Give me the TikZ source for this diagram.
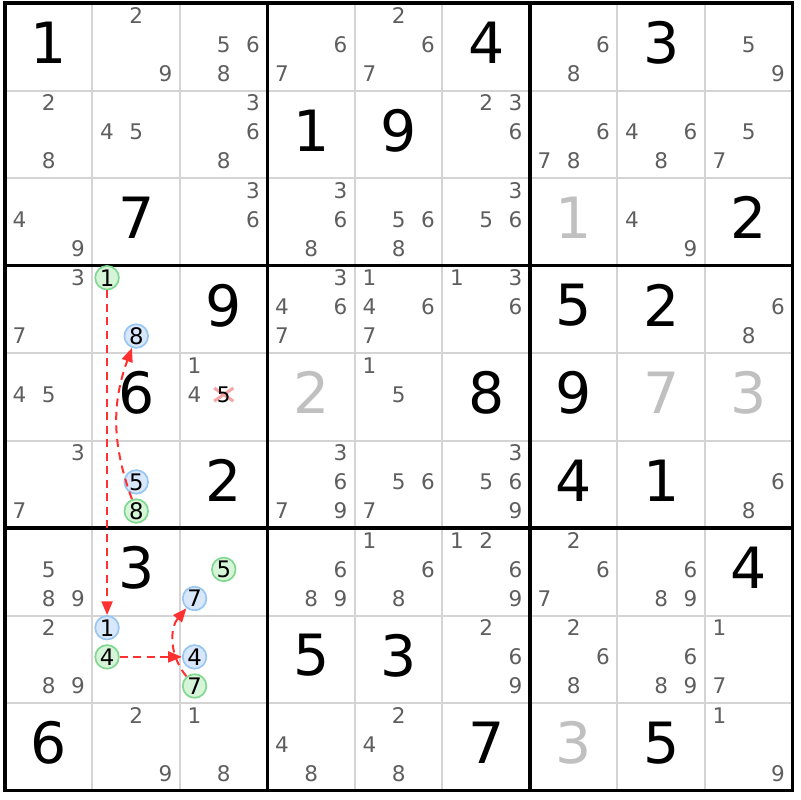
\documentclass[tikz,border=0pt]{standalone}
\usepackage{fontspec}
\setmainfont{DejaVu Sans}
\usetikzlibrary{arrows.meta}

\definecolor{candgray}{HTML}{5E5E5E}
\definecolor{solvedgray}{HTML}{C0C0C0}
\definecolor{gridgray}{HTML}{D4D4D4}
\definecolor{greenfill}{HTML}{D6F5D8}
\definecolor{greenline}{HTML}{80D890}
\definecolor{bluefill}{HTML}{D8E8FA}
\definecolor{blueline}{HTML}{98C6F2}
\definecolor{chainred}{HTML}{FF3030}
\definecolor{crosspink}{HTML}{F6A6A6}

\tikzset{
	cand/.style={text=candgray,font=\fontsize{7}{7}\selectfont,inner sep=0pt},
	given/.style={font=\fontsize{18.5}{19}\selectfont,inner sep=0pt},
	solved/.style={given,text=solvedgray},
	onlink/.style={circle,draw=greenline,fill=greenfill,line width=0.55pt,minimum size=0.27cm,inner sep=0pt,font=\fontsize{7.4}{7}\selectfont},
	offlink/.style={onlink,draw=blueline,fill=bluefill},
	chain/.style={chainred,line width=0.65pt,dash pattern=on 2.6pt off 1.8pt,-{Triangle[length=4.5pt,width=3.6pt]}}
}

\begin{document}
\begin{tikzpicture}[x=1cm,y=-1cm] % grille 9x9, une case = 1

\useasboundingbox (-0.0571,-0.0343) rectangle (9.0857,9.1086);

\foreach \i in {1,2,4,5,7,8} % traits fins
{
	\draw[gridgray,line width=0.65pt] (\i,0) -- (\i,9);
	\draw[gridgray,line width=0.65pt] (0,\i) -- (9,\i);
}
\foreach \i in {3,6} % traits des blocs
{
	\draw[line width=1.2pt] (\i,0) -- (\i,9);
	\draw[line width=1.2pt] (0,\i) -- (9,\i);
}
\draw[line width=1.2pt] (0,0) rectangle (9,9);

\foreach \r/\c/\d in {1/1/1,1/6/4,1/8/3,2/4/1,2/5/9,3/2/7,3/9/2,4/3/9,4/7/5,4/8/2,5/2/6,5/6/8,5/7/9,6/3/2,6/7/4,6/8/1,7/2/3,7/9/4,8/4/5,8/5/3,9/1/6,9/6/7,9/8/5} % chiffres donnés
	\node[given] (g\r\c) at (\c-0.5,\r-0.545) {\d};

\foreach \r/\c/\d in {3/7/1,5/4/2,5/8/7,5/9/3,9/7/3} % chiffres trouvés
	\node[solved] (g\r\c) at (\c-0.5,\r-0.545) {\d};

\foreach \r/\c/\ds in {1/2/{2,9},1/3/{5,6,8},1/4/{6,7},1/5/{2,6,7},1/7/{6,8},1/9/{5,9},
	2/1/{2,8},2/2/{4,5},2/3/{3,6,8},2/6/{2,3,6},2/7/{6,7,8},2/8/{4,6,8},2/9/{5,7},
	3/1/{4,9},3/3/{3,6},3/4/{3,6,8},3/5/{5,6,8},3/6/{3,5,6},3/8/{4,9},
	4/1/{3,7},4/4/{3,4,6,7},4/5/{1,4,6,7},4/6/{1,3,6},4/9/{6,8},
	5/1/{4,5},5/3/{1,4},5/5/{1,5},
	6/1/{3,7},6/4/{3,6,7,9},6/5/{5,6,7},6/6/{3,5,6,9},6/9/{6,8},
	7/1/{5,8,9},7/4/{6,8,9},7/5/{1,6,8},7/6/{1,2,6,9},7/7/{2,6,7},7/8/{6,8,9},
	8/1/{2,8,9},8/6/{2,6,9},8/7/{2,6,8},8/8/{6,8,9},8/9/{1,7},
	9/2/{2,9},9/3/{1,8},9/4/{4,8},9/5/{2,4,8},9/9/{1,9}} % candidats
{
	\foreach \d in \ds
	{
		\pgfmathsetmacro\cx{\c-1+(2*mod(\d-1,3)+1)/6}
		\pgfmathsetmacro\cy{\r-1+0.14+0.333*int((\d-1)/3)}
		\node[cand] (k\r\c\d) at (\cx,\cy) {\d};
	}
}

\foreach \r/\c/\d/\s in {4/2/1/onlink,4/2/8/offlink,6/2/5/offlink,6/2/8/onlink,7/3/5/onlink,7/3/7/offlink,8/2/1/offlink,8/2/4/onlink,8/3/4/offlink,8/3/7/onlink} % candidats de la chaîne
{
	\pgfmathsetmacro\cx{\c-1+(2*mod(\d-1,3)+1)/6}
	\pgfmathsetmacro\cy{\r-1+0.14+0.333*int((\d-1)/3)}
	\node[\s] (k\r\c\d) at (\cx,\cy) {\d};
}

% candidat éliminé
\draw[crosspink,line width=1pt] (2.39,4.40) -- (2.61,4.55) (2.39,4.55) -- (2.61,4.40);
\node[cand,text=black] (k535) at (2.5,4.473) {5};

\draw[chain] (k421) -- (k821);
\draw[chain] (k628) to[bend left=20] (k428);
\draw[chain] (k824) -- (k834);
\draw[chain] (k837) to[bend left=40] (k737);

\end{tikzpicture}
\end{document}
